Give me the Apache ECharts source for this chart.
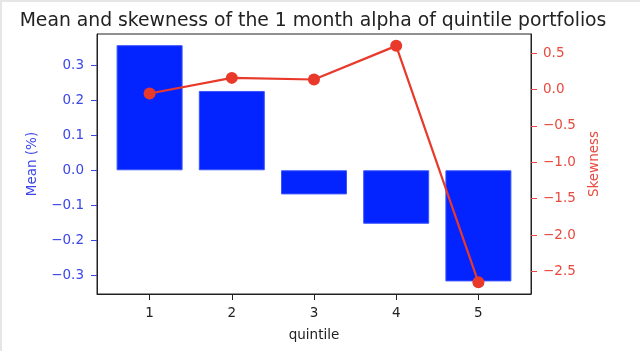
<!DOCTYPE html>
<html>
<head>
<meta charset="utf-8">
<script src="https://cdn.jsdelivr.net/npm/echarts@6/dist/echarts.min.js"></script>
<style>
  html, body { margin: 0; padding: 0; background: #fff; }
  #chart { width: 640px; height: 351px; box-sizing: border-box; border-top: 2px solid #e6e6e6; border-left: 2px solid #e6e6e6; }
</style>
</head>
<body>
<div id="chart"></div>
<script>
// quintile positions and the two measured series
var quintiles = [1, 2, 3, 4, 5];
var meanAlpha = [0.358, 0.227, -0.069, -0.153, -0.318];
var skewAlpha = [-0.055, 0.16, 0.138, 0.60, -2.65];
var meanTicks = [-0.3, -0.2, -0.1, 0.0, 0.1, 0.2, 0.3];
var skewTicks = [-2.5, -2.0, -1.5, -1.0, -0.5, 0.0, 0.5];

var blue = '#0324ff';
var red = '#e8392b';
var font = 'DejaVu Sans';

function fmt(v) {
    return v.toFixed(1).replace('-', '\u2212');
}

var myChart = echarts.init(document.getElementById('chart'));
var option = {
    animation: false,
    title: {
        text: 'Mean and skewness of the 1 month alpha of quintile portfolios',
        left: 306,
        textAlign: 'center',
        top: 5,
        textStyle: { fontFamily: font, fontSize: 18.8, fontWeight: 'normal', color: '#222' }
    },
    grid: {
        left: 95, right: 109, top: 32, bottom: 57,
        show: true, borderColor: '#222', borderWidth: 1, backgroundColor: 'transparent'
    },
    xAxis: {
        type: 'value',
        min: 0.36,
        max: 5.64,
        name: 'quintile',
        nameLocation: 'middle',
        nameGap: 34,
        nameTextStyle: { fontFamily: font, fontSize: 13.5, color: '#222' },
        splitLine: { show: false },
        axisLine: { show: true, onZero: false, lineStyle: { color: '#222' } },
        axisTick: { show: true, length: 6, customValues: quintiles, lineStyle: { color: '#222' } },
        axisLabel: { customValues: quintiles, fontFamily: font, fontSize: 13.5, color: '#222', margin: 12 }
    },
    yAxis: [
        {
            type: 'value',
            min: -0.354,
            max: 0.390,
            name: 'Mean (%)',
            nameLocation: 'middle',
            nameGap: 58,
            nameTextStyle: { fontFamily: font, fontSize: 13.5, color: '#3b46e8' },
            splitLine: { show: false },
            axisLine: { show: true, lineStyle: { color: '#222' } },
            axisTick: { show: true, length: 6, customValues: meanTicks, lineStyle: { color: '#3b46e8' } },
            axisLabel: { customValues: meanTicks, formatter: fmt, fontFamily: font, fontSize: 13.5, color: '#3b46e8', margin: 13 }
        },
        {
            type: 'value',
            min: -2.81,
            max: 0.763,
            name: 'Skewness',
            nameLocation: 'middle',
            nameGap: 56,
            nameRotate: 90,
            nameTextStyle: { fontFamily: font, fontSize: 13.5, color: '#e84a3f' },
            splitLine: { show: false },
            axisLine: { show: true, lineStyle: { color: '#222' } },
            axisTick: { show: true, length: 6, customValues: skewTicks, lineStyle: { color: '#e84a3f' } },
            axisLabel: { customValues: skewTicks, formatter: fmt, fontFamily: font, fontSize: 13.5, color: '#e84a3f', margin: 12 }
        }
    ],
    series: [
        {
            type: 'bar',
            yAxisIndex: 0,
            barWidth: 66,
            itemStyle: { color: blue, borderColor: '#3a55ff', borderWidth: 1 },
            data: quintiles.map(function (q, i) { return [q, meanAlpha[i]]; })
        },
        {
            type: 'line',
            yAxisIndex: 1,
            symbol: 'circle',
            symbolSize: 12,
            lineStyle: { color: red, width: 2.2 },
            itemStyle: { color: red },
            data: quintiles.map(function (q, i) { return [q, skewAlpha[i]]; })
        }
    ]
};
option && myChart.setOption(option);
</script>
</body>
</html>
